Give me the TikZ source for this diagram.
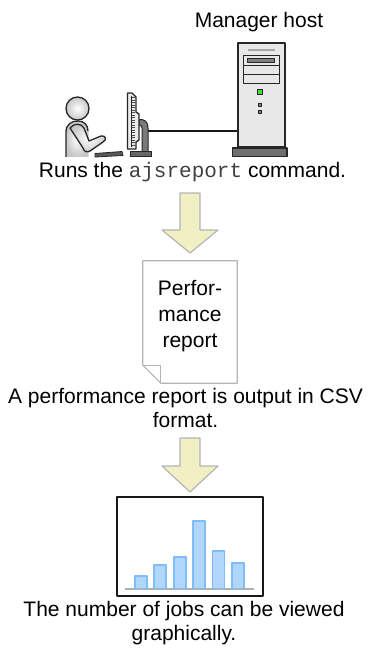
\documentclass[tikz,border=0pt]{standalone}
\usepackage{fontspec}
\setmainfont{Liberation Sans}
\newfontfamily\codefont{Liberation Mono}
\definecolor{arrowfill}{HTML}{F0F0C4}
\definecolor{arrowedge}{HTML}{B4B4B4}
\definecolor{docedge}{HTML}{B4B4B4}
\definecolor{barfill}{HTML}{B0D6FC}
\definecolor{baredge}{HTML}{80BCF8}
\definecolor{axisgray}{HTML}{B0B0B0}
\definecolor{towerfill}{HTML}{E8E8E8}
\definecolor{basegray}{HTML}{707070}
\definecolor{ledgreen}{HTML}{44DD44}
\definecolor{standgray}{HTML}{7A7A7A}
\begin{document}
\begin{tikzpicture}[x=1pt,y=-1pt,line join=round,
  lbl/.style={font=\fontsize{21}{24}\selectfont,inner sep=0pt,anchor=base,align=center},
  flowarrow/.style={fill=arrowfill,draw=arrowedge,line width=1.2pt},
  outline/.style={draw=black!85,line width=1.3pt},
  soft/.style={inner color=white,outer color=black!22},
  bar/.style={fill=barfill,draw=baredge,line width=1.1pt},
  pics/downarrow/.style 2 args={code={
    \draw[flowarrow] (-10,0) -- (10,0) -- (10,#1) -- (28,#1) -- (0,#2)
      -- (-28,#1) -- (-10,#1) -- cycle;}}]
\useasboundingbox (0,0) rectangle (371,655);

% ---------- user at the terminal ----------
% torso
\fill[soft] (66,157) -- (66,132) .. controls (66,124) and (72,121) .. (78,121)
  .. controls (84,121) and (88,125) .. (88,131) -- (88,157) -- cycle;
\draw[outline] (66,157) -- (66,132) .. controls (66,124) and (72,121) .. (78,121)
  .. controls (84,121) and (88,125) .. (88,131);
% arm reaching for the keyboard
\draw[outline,soft] (70,128) .. controls (74,123) and (81,123) .. (84,128)
  -- (89,141) -- (101,136) .. controls (106,135) and (107,140) .. (103,142)
  -- (90,151) .. controls (86,153) and (84,151) .. (83,148) -- cycle;
% head
\draw[outline,soft] (77.5,108.5) circle[radius=11.5];
% keyboard
\draw[fill=black!65,draw=black!85,line width=0.8pt]
  (95,153.5) -- (122,151.5) -- (123,155.5) -- (95,157) -- cycle;
% monitor stand and foot
\draw[fill=standgray,draw=black!85,line width=1pt]
  (139,119.5) .. controls (145,119) and (148,122) .. (148,128) -- (148,152)
  -- (142,152) -- (142,128) .. controls (142,126) and (141,125) .. (139,125) -- cycle;
\draw[fill=black!60,draw=black!85,line width=1pt] (130,152) rectangle (151,156.5);
% monitor seen from the side
\draw[outline,fill=black!8] (127.5,93) -- (132,93) -- (136,97) -- (136,112)
  -- (139,114) -- (139,140) -- (136,142) -- (136,149) -- (127.5,149) -- cycle;
\foreach \yy in {97.5,100,...,146} \draw[black!70,line width=0.6pt] (131,\yy) -- (135,\yy);
\draw[black!85,line width=0.8pt] (131,96) -- (131,147);
\coordinate (stand) at (148,131);

% ---------- manager host ----------
\node[lbl] (hostlabel) at (259,28) {Manager host};
\node[outline,fill=towerfill,minimum width=47pt,minimum height=104pt,inner sep=0pt]
  (server) at (261.5,95) {};
\draw[black!35,line width=2pt] (248,50) -- (275,50);
\draw[black!85,line width=1pt] (243.5,55.5) rectangle (279,83.5)
  (243.5,65.5) -- (279,65.5) (243.5,74.5) -- (279,74.5);
\draw[fill=black!50,draw=black!85,line width=0.8pt] (247.5,58.5) rectangle (274.5,62.5);
\draw[fill=ledgreen,draw=black!85,line width=0.8pt] (257.5,89.5) rectangle (262.5,94.5);
\draw[fill=black!50,draw=black!85,line width=0.6pt] (258.5,103.5) rectangle (261.5,106.5);
\draw[fill=black!50,draw=black!85,line width=0.6pt] (258.5,110.5) rectangle (261.5,113.5);
\draw[fill=basegray,draw=black!85,line width=1.1pt] (232.5,148) rectangle (287,156.5);
% network cable
\draw[black!90,line width=1.2pt] (stand) -- (server.west |- stand);

\node[lbl] (runs) at (192.5,177) {Runs the {\codefont\color{black!75}ajsreport} command.};

% ---------- report ----------
\pic at (190,193) {downarrow={37}{60}};
\node[minimum width=94pt,minimum height=122pt,inner sep=0pt] (report) at (190,322) {};
\draw[docedge,fill=white,line width=1.2pt] (report.north west) -- (report.north east)
  -- (report.south east) -- ([xshift=18pt]report.south west)
  -- ([yshift=18pt]report.south west) -- cycle;
\draw[docedge,line width=1.2pt] ([yshift=18pt]report.south west)
  -- ([xshift=18pt,yshift=18pt]report.south west) -- ([xshift=18pt]report.south west);
% the base anchor of a multi-line label sits on its last line
\node[lbl,font=\fontsize{21}{26}\selectfont] (reporttext) at (190,347) {Perfor-\\mance\\report};

\node[lbl] (csv) at (185.5,427) {A performance report is output in CSV\\format.};

% ---------- chart ----------
\pic at (190,438) {downarrow={28}{54}};
\node[draw=black!90,line width=1.6pt,minimum width=146pt,minimum height=99pt,inner sep=0pt]
  (chart) at (190,546.5) {};
\draw[axisgray,line width=1.6pt] (125,589) -- (254,589);
\foreach \cx/\top in {141/576,160/565,180/557,199/521,218.5/551,238/563}
  \draw[bar] (\cx-6,588.5) rectangle (\cx+6,\top);

\node[lbl] (jobs) at (184,640) {The number of jobs can be viewed\\graphically.};
\end{tikzpicture}
\end{document}
